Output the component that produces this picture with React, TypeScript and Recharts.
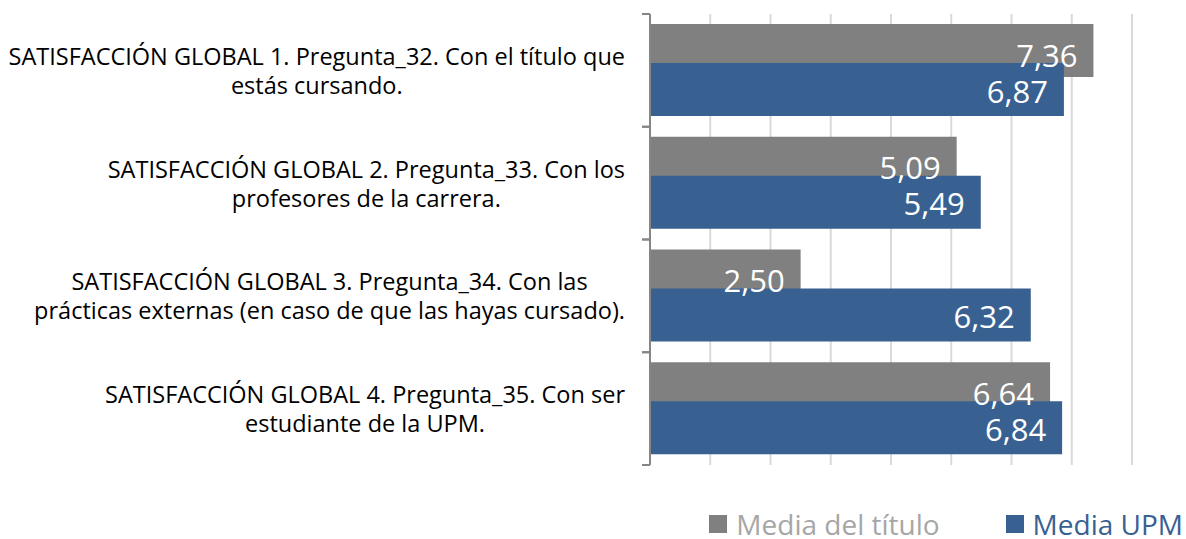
import { Bar, BarChart, CartesianGrid, LabelList, Legend, XAxis, YAxis } from "recharts";

// Survey questions (y axis), one line per "\n"
const categories = [
  "SATISFACCIÓN GLOBAL 1. Pregunta_32. Con el título que\nestás cursando.",
  "SATISFACCIÓN GLOBAL 2. Pregunta_33. Con los\nprofesores de la carrera.",
  "SATISFACCIÓN GLOBAL 3. Pregunta_34. Con las\nprácticas externas (en caso de que las hayas cursado).",
  "SATISFACCIÓN GLOBAL 4. Pregunta_35. Con ser\nestudiante de la UPM.",
];
const mediaTitulo = [7.36, 5.09, 2.5, 6.64];
const mediaUPM = [6.87, 5.49, 6.32, 6.84];
const xTicks = [0, 1, 2, 3, 4, 5, 6, 7, 8];

const GRAY = "#808080";
const BLUE = "#386192";
const FONT = "'Open Sans', sans-serif";

const chartData = categories.map((name, i) => ({
  name,
  titulo: mediaTitulo[i],
  upm: mediaUPM[i],
}));

const fmt = (v: number) => v.toFixed(2).replace(".", ",");

let ctx: CanvasRenderingContext2D | null = null;
function textWidth(text: string, font: string) {
  if (!ctx) ctx = document.createElement("canvas").getContext("2d");
  if (!ctx) return text.length * 11;
  ctx.font = font;
  return ctx.measureText(text).width;
}

const LABEL_SIZE = 23.5;
const LINE_H = 29;

function CategoryTick(props: any) {
  const { x, y, payload } = props;
  const half = payload?.offset ?? 56;
  const lines = String(payload.value).split("\n");
  const maxW = Math.max(...lines.map((l) => textWidth(l, `${LABEL_SIZE}px 'Open Sans'`)));
  const cx = x - 25 - maxW / 2;
  const startY = y - ((lines.length - 1) * LINE_H) / 2;
  return (
    <g>
      <line x1={x - 8} x2={x} y1={y - half} y2={y - half} stroke="#868686" strokeWidth={2} />
      <line x1={x - 8} x2={x} y1={y + half} y2={y + half} stroke="#868686" strokeWidth={2} />
      <text
        x={cx}
        y={startY}
        textAnchor="middle"
        dominantBaseline="central"
        fontFamily={FONT}
        fontSize={LABEL_SIZE}
        fill="#000"
      >
        {lines.map((l, i) => (
          <tspan key={i} x={cx} dy={i === 0 ? 0 : LINE_H}>
            {l}
          </tspan>
        ))}
      </text>
    </g>
  );
}

function valueLabel(dy: number) {
  return (p: any) => {
    const { x, y, width, height, value } = p;
    return (
      <text
        x={x + width - 16}
        y={y + height / 2 + dy}
        textAnchor="end"
        dominantBaseline="central"
        fontFamily={FONT}
        fontSize={31}
        fill="#fff"
      >
        {fmt(value)}
      </text>
    );
  };
}

function LegendContent() {
  const items = [
    { label: "Media del título", swatch: GRAY, color: "#a6a6a6" },
    { label: "Media UPM", swatch: BLUE, color: BLUE },
  ];
  return (
    <div
      style={{
        display: "flex",
        alignItems: "center",
        fontFamily: FONT,
        fontSize: 28,
        lineHeight: "28px",
        height: 28,
        whiteSpace: "nowrap",
      }}
    >
      {items.map((it, i) => (
        <div key={it.label} style={{ display: "flex", alignItems: "center", marginLeft: i === 0 ? 0 : 66 }}>
          <span style={{ width: 18, height: 18, background: it.swatch, marginRight: 9, display: "inline-block" }} />
          <span style={{ color: it.color }}>{it.label}</span>
        </div>
      ))}
    </div>
  );
}

export default function App() {
  return (
    <div style={{ position: "absolute", left: 0, top: 0, background: "#fff" }}>
      <BarChart
        width={1186}
        height={539}
        data={chartData}
        layout="vertical"
        margin={{ top: 14, right: 54, left: 0, bottom: 46 }}
        barSize={53}
        barGap={-14}
      >
        <CartesianGrid horizontal={false} stroke="#d9d9d9" strokeWidth={2} syncWithTicks />
        <XAxis
          type="number"
          domain={[0, 8]}
          ticks={xTicks}
          interval={0}
          axisLine={false}
          tickLine={false}
          tick={() => <g />}
          height={0}
        />
        <YAxis
          type="category"
          dataKey="name"
          width={650}
          axisLine={{ stroke: "#868686", strokeWidth: 2 }}
          tickLine={false}
          tickSize={0}
          tickMargin={0}
          tick={<CategoryTick />}
          interval={0}
        />
        <Legend
          verticalAlign="bottom"
          align="right"
          content={<LegendContent />}
          wrapperStyle={{ top: 510, right: 3, bottom: "auto", left: "auto", width: "auto", height: "auto" }}
        />
        <Bar dataKey="titulo" name="Media del título" fill={GRAY} isAnimationActive={false}>
          <LabelList dataKey="titulo" content={valueLabel(4)} />
        </Bar>
        <Bar dataKey="upm" name="Media UPM" fill={BLUE} isAnimationActive={false}>
          <LabelList dataKey="upm" content={valueLabel(1)} />
        </Bar>
      </BarChart>
    </div>
  );
}
